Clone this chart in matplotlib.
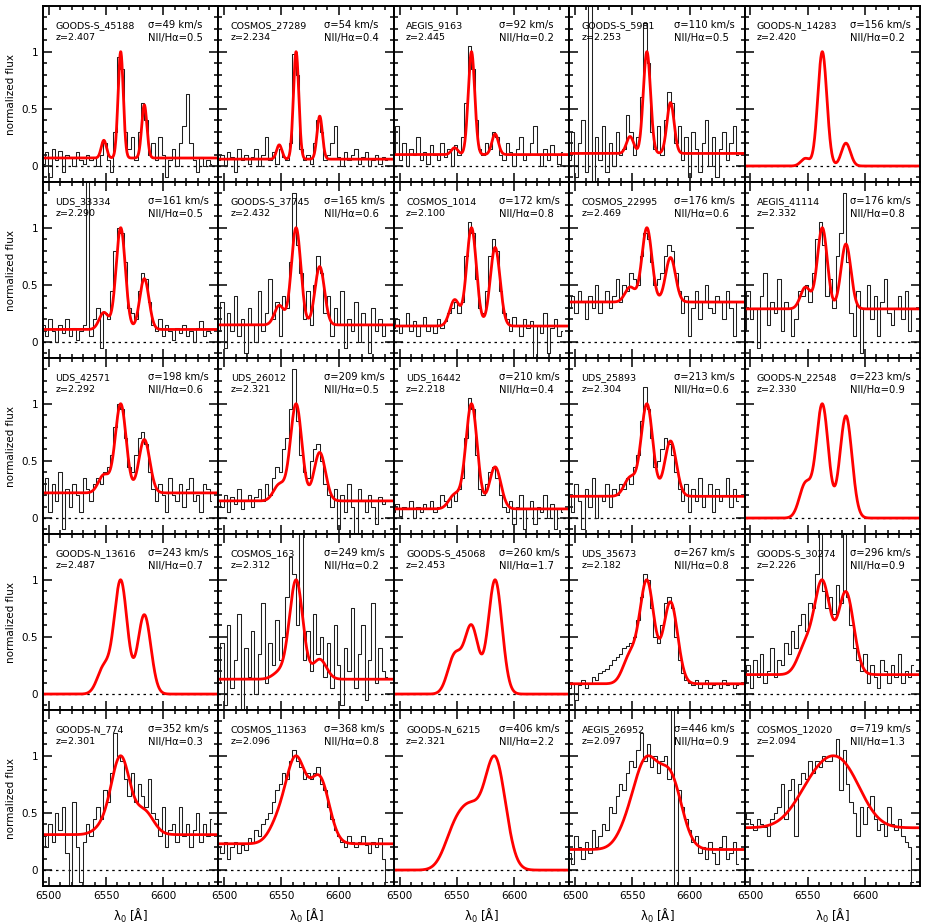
import numpy as np
import matplotlib
matplotlib.use("Agg")
import matplotlib.pyplot as plt
from matplotlib.ticker import MultipleLocator, FixedLocator, FixedFormatter

# panel labels / fit parameters
names = ["GOODS-S_45188", "COSMOS_27289", "AEGIS_9163", "GOODS-S_5981", "GOODS-N_14283",
         "UDS_33334", "GOODS-S_37745", "COSMOS_1014", "COSMOS_22995", "AEGIS_41114",
         "UDS_42571", "UDS_26012", "UDS_16442", "UDS_25893", "GOODS-N_22548",
         "GOODS-N_13616", "COSMOS_163", "GOODS-S_45068", "UDS_35673", "GOODS-S_30274",
         "GOODS-N_774", "COSMOS_11363", "GOODS-N_6215", "AEGIS_26952", "COSMOS_12020"]
redshifts = ["2.407", "2.234", "2.445", "2.253", "2.420",
             "2.290", "2.432", "2.100", "2.469", "2.332",
             "2.292", "2.321", "2.218", "2.304", "2.330",
             "2.487", "2.312", "2.453", "2.182", "2.226",
             "2.301", "2.096", "2.321", "2.097", "2.094"]
sigmas = [49, 54, 92, 110, 156,
          161, 165, 172, 176, 176,
          198, 209, 210, 213, 223,
          243, 249, 260, 267, 296,
          352, 368, 406, 446, 719]
ratios = [0.5, 0.4, 0.2, 0.5, 0.2,
          0.5, 0.6, 0.8, 0.6, 0.8,
          0.6, 0.5, 0.4, 0.6, 0.9,
          0.7, 0.2, 1.7, 0.8, 0.9,
          0.3, 0.8, 2.2, 0.9, 1.3]
continua = [0.07, 0.06, 0.10, 0.11, 0.0,
            0.11, 0.15, 0.14, 0.35, 0.29,
            0.22, 0.15, 0.08, 0.19, 0.0,
            0.0, 0.13, 0.0, 0.09, 0.17,
            0.31, 0.23, 0.0, 0.18, 0.37]

# observed spectra, 3 A bins starting at 6495 A (rough reading)
spec_gs45188 = [0.02, 0.12, -0.10, 0.15, 0.05, 0.13, -0.05, 0.10, 0.08, 0.00,
                0.12, 0.05, 0.02, 0.10, 0.05, 0.08, 0.00, 0.10, 0.20, 0.05,
                -0.05, 0.30, 0.95, 0.85, 0.30, 0.15, 0.25, 0.05, 0.30, 0.55,
                0.40, 0.10, 0.20, 0.05, 0.25, 0.10, -0.10, 0.05, 0.15, 0.00,
                0.20, 0.35, 0.63, 0.20, 0.05, -0.05, 0.08, 0.00, 0.05, 0.02]
spec_c27289 = [0.05, 0.10, 0.00, 0.12, 0.08, -0.05, 0.15, 0.05, 0.10, 0.02,
               0.08, 0.15, 0.00, 0.10, 0.25, 0.05, 0.12, 0.02, 0.15, 0.08,
               0.05, 0.20, 0.98, 0.80, 0.15, 0.05, 0.10, 0.02, 0.20, 0.40,
               0.30, 0.05, 0.10, 0.20, 0.35, 0.08, 0.00, 0.12, 0.05, 0.10,
               0.15, 0.02, 0.08, 0.12, 0.00, 0.05, 0.10, 0.02, 0.08, 0.05]
spec_a9163 = [0.10, 0.35, 0.05, 0.20, 0.00, 0.15, 0.10, 0.25, 0.05, 0.12,
              0.02, 0.18, 0.10, 0.05, 0.20, 0.08, 0.15, 0.00, 0.18, 0.10,
              0.25, 0.55, 1.05, 0.85, 0.40, 0.15, 0.10, 0.20, 0.15, 0.30,
              0.25, 0.10, 0.05, 0.20, 0.12, 0.00, 0.15, 0.25, 0.05, 0.10,
              0.20, 0.35, 0.10, 0.00, 0.15, 0.05, 0.18, 0.10, 0.02, 0.12]
spec_gs5981 = [0.05, 0.30, -0.10, 0.20, 0.40, -0.05, 1.40, -0.15, 0.25, 0.05,
               0.35, -0.05, 0.20, 0.00, 0.30, 0.10, 0.15, 0.45, 0.30, 0.10,
               0.25, 0.60, 1.25, 0.90, 0.30, 0.15, 0.35, 0.10, 0.40, 0.65,
               0.55, 0.20, 0.35, 0.05, 0.25, -0.10, 0.30, 0.15, -0.05, 0.20,
               0.40, 0.00, 0.25, -0.10, 0.15, 0.30, 0.05, 0.20, 0.35, 0.10]
spec_u33334 = [0.15, 0.05, 0.20, 0.10, 0.00, 0.15, 0.08, 0.20, 0.05, 0.12,
               0.02, 0.10, 0.15, 1.40, 0.05, 0.20, 0.30, -0.05, 0.25, 0.20,
               0.45, 0.80, 1.00, 0.95, 0.70, 0.30, 0.25, 0.20, 0.45, 0.60,
               0.55, 0.35, 0.15, 0.10, 0.20, 0.05, 0.15, 0.10, 0.02, 0.12,
               0.08, 0.15, 0.05, 0.10, 0.00, 0.12, 0.18, 0.05, 0.10, 0.08]
spec_gs37745 = [0.10, 0.35, -0.05, 0.25, 0.10, 0.40, 0.05, 0.20, -0.10, 0.30,
                0.15, 0.00, 0.45, 0.10, 0.25, 0.55, 0.20, 0.35, 0.05, 0.40,
                0.30, 0.70, 1.30, 0.85, 0.60, 0.20, 0.45, 0.15, 0.50, 0.75,
                0.60, 0.25, 0.40, 0.05, 0.30, 0.15, 0.45, -0.05, 0.20, 0.10,
                0.35, 0.00, 0.25, 0.15, -0.10, 0.30, 0.10, 0.20, 0.05, 0.15]
spec_c1014 = [0.12, 0.20, 0.08, 0.15, 0.25, 0.10, 0.18, 0.05, 0.15, 0.22,
              0.10, 0.15, 0.08, 0.20, 0.12, 0.18, 0.25, 0.30, 0.35, 0.25,
              0.35, 0.75, 1.05, 0.95, 0.55, 0.30, 0.25, 0.45, 0.75, 0.90,
              0.80, 0.45, 0.25, 0.20, 0.10, 0.22, 0.15, 0.05, 0.20, 0.12,
              0.18, -0.15, 0.15, 0.08, 0.25, -0.10, 0.12, 0.20, 0.05, 0.10]
spec_c22995 = [0.30, 0.40, 0.25, 0.45, 0.35, 0.20, 0.40, 0.30, 0.50, 0.25,
               0.35, 0.45, 0.30, 0.40, 0.55, 0.35, 0.50, 0.45, 0.60, 0.55,
               0.50, 0.75, 0.95, 0.90, 0.70, 0.50, 0.55, 0.60, 0.75, 0.85,
               0.80, 0.60, 0.45, 0.25, 0.40, 0.05, 0.30, 0.45, 0.20, 0.35,
               0.50, 0.30, 0.25, 0.40, 0.35, 0.20, 0.45, 0.30, 0.05, 0.35]
spec_a41114 = [0.10, 0.45, 0.20, 0.30, -0.05, 0.40, 0.60, 0.15, 0.35, 0.25,
               0.55, 0.10, 0.35, 0.30, 0.05, 0.20, 0.45, 0.40, 0.50, 0.35,
               0.60, 0.90, 1.05, 0.85, 0.40, 0.55, 0.30, 0.75, 0.95, 1.30,
               0.70, 0.25, 0.05, 0.45, -0.10, 0.30, 0.50, 0.20, 0.40, 0.05,
               0.35, 0.55, 0.25, 0.15, 0.30, 0.40, 0.20, 0.45, 0.10, 0.30]
spec_u42571 = [0.20, 0.35, 0.05, 0.30, 0.15, 0.40, -0.10, 0.25, 0.10, 0.30,
               0.20, 0.05, 0.35, 0.25, 0.15, 0.30, 0.35, 0.30, 0.40, 0.45,
               0.55, 0.80, 1.00, 0.95, 0.70, 0.45, 0.40, 0.55, 0.70, 0.75,
               0.65, 0.40, 0.25, 0.15, 0.30, 0.20, 0.05, 0.35, 0.20, 0.15,
               0.30, 0.10, 0.25, 0.35, 0.15, 0.20, 0.05, 0.30, 0.25, 0.15]
spec_u26012 = [0.15, 0.10, 0.20, 0.05, 0.18, 0.12, 0.25, 0.08, 0.15, 0.20,
               0.10, 0.18, 0.25, 0.15, 0.30, 0.20, 0.35, 0.45, 0.40, 0.60,
               0.70, 0.95, 1.30, 0.85, 0.55, 0.40, 0.35, 0.50, 0.60, 0.65,
               0.50, 0.30, 0.20, 0.10, 0.25, -0.10, 0.20, 0.05, 0.30, 0.10,
               -0.15, 0.25, 0.15, 0.05, 0.20, 0.10, -0.05, 0.18, 0.12, 0.15]
spec_u16442 = [0.05, 0.12, 0.02, 0.10, 0.08, 0.15, 0.00, 0.10, 0.05, 0.12,
               0.08, 0.15, 0.05, 0.10, 0.20, 0.15, 0.10, 0.20, 0.15, 0.25,
               0.35, 0.70, 1.05, 0.95, 0.55, 0.25, 0.20, 0.30, 0.40, 0.45,
               0.35, 0.20, 0.10, 0.05, 0.15, -0.05, 0.10, 0.20, -0.10, 0.08,
               0.15, -0.05, 0.10, 0.05, 0.20, 0.00, 0.12, -0.10, 0.08, 0.05]
spec_u25893 = [0.20, 0.05, 0.30, 0.15, -0.10, 0.25, 0.10, 0.35, 0.00, 0.20,
               0.15, 0.30, 0.10, 0.25, 0.20, 0.30, 0.25, 0.35, 0.30, 0.45,
               0.55, 0.85, 1.15, 0.95, 0.70, 0.45, 0.50, 0.60, 0.70, 0.65,
               0.55, 0.40, 0.25, 0.15, 0.30, 0.05, 0.25, 0.15, 0.35, 0.10,
               0.20, 0.30, 0.05, 0.25, 0.15, 0.20, 0.35, 0.10, 0.25, 0.15]
spec_c163 = [0.10, 0.45, -0.10, 0.60, 0.05, 0.30, 0.70, -0.15, 0.40, 0.15,
             0.55, 0.00, 0.35, 0.80, 0.10, 0.45, 0.25, 0.65, 0.30, 0.50,
             0.85, 1.20, 1.05, 0.60, 1.40, 0.30, 0.55, 0.20, 0.70, 0.35,
             0.50, 0.15, 0.45, 0.05, 0.60, 0.25, -0.10, 0.40, 0.20, 0.75,
             0.05, 0.35, 0.60, -0.05, 0.30, 0.80, 0.10, 0.40, 0.20, 0.15]
spec_u35673 = [0.05, 0.10, -0.05, 0.08, 0.12, 0.05, 0.10, 0.15, 0.12, 0.18,
               0.20, 0.22, 0.25, 0.30, 0.32, 0.35, 0.40, 0.42, 0.45, 0.50,
               0.65, 0.85, 1.05, 1.00, 0.75, 0.50, 0.45, 0.60, 0.80, 0.85,
               0.75, 0.50, 0.30, 0.18, 0.12, 0.10, 0.08, 0.12, 0.05, 0.10,
               0.12, 0.05, 0.08, 0.10, 0.05, 0.12, 0.08, 0.10, 0.05, 0.08]
spec_gs30274 = [0.10, 0.25, 0.05, 0.30, 0.15, 0.35, 0.10, 0.20, 0.40, 0.15,
                0.30, 0.25, 0.45, 0.35, 0.55, 0.40, 0.60, 0.70, 0.55, 0.80,
                0.75, 1.05, 1.40, 0.90, 0.75, 0.85, 0.70, 0.95, 0.80, 1.40,
                0.85, 0.60, 0.40, 0.30, 0.20, 0.35, 0.10, 0.25, 0.15, 0.05,
                0.30, 0.20, 0.10, 0.25, 0.15, 0.35, 0.10, 0.20, 0.15, 0.25]
spec_gn774 = [0.30, 0.20, 0.40, 0.25, 0.50, 0.35, 0.55, 0.15, -0.15, 0.60,
              0.20, -0.10, 0.25, 0.40, 0.30, 0.45, 0.55, 0.45, 0.70, 0.60,
              0.85, 1.20, 1.00, 0.95, 0.80, 0.65, 0.85, 0.60, 0.75, 0.65,
              0.55, 0.80, 0.50, 0.45, 0.30, 0.55, 0.20, 0.35, 0.40, 0.25,
              0.55, 0.30, 0.40, 0.20, 0.35, 0.50, 0.25, 0.40, 0.30, 0.45]
spec_c11363 = [0.20, 0.15, 0.25, 0.10, 0.20, 0.25, 0.15, 0.22, 0.18, 0.28,
               0.25, 0.35, 0.30, 0.40, 0.45, 0.50, 0.60, 0.70, 0.75, 0.85,
               0.80, 0.95, 1.05, 0.95, 0.90, 0.80, 0.85, 0.80, 0.85, 0.90,
               0.75, 0.70, 0.55, 0.45, 0.35, 0.30, 0.25, 0.20, 0.30, 0.25,
               0.20, 0.25, 0.30, 0.22, 0.15, 0.25, 0.20, 0.28, 0.10, -0.10]
spec_a26952 = [0.15, 0.05, 0.30, 0.20, 0.10, 0.25, 0.15, 0.35, 0.20, 0.30,
               0.40, 0.35, 0.55, 0.50, 0.65, 0.75, 0.70, 0.85, 0.95, 0.90,
               1.05, 1.20, 0.95, 1.10, 0.90, 1.00, 0.85, 0.95, 1.00, 0.80,
               1.40, -0.15, 0.70, 0.55, 0.45, 0.35, 0.25, 0.30, 0.15, 0.20,
               0.10, 0.25, 0.15, 0.05, 0.20, 0.30, 0.10, 0.15, 0.25, 0.05]
spec_c12020 = [0.50, 0.45, 0.40, 0.35, 0.45, 0.40, 0.38, 0.30, 0.45, 0.50,
               0.55, 0.75, 0.45, 0.70, 0.80, 0.30, 0.75, 0.85, 0.80, 0.95,
               0.85, 0.95, 0.90, 1.00, 0.95, 0.95, 1.00, 1.15, 0.70, 1.05,
               0.75, 0.60, 0.50, 0.30, 0.55, 0.40, 0.55, 0.65, 0.45, 0.35,
               0.40, 0.30, 0.55, 0.40, 0.35, 0.45, 0.30, 0.25, 0.20, -0.10]

spectra = [spec_gs45188, spec_c27289, spec_a9163, spec_gs5981, None,
           spec_u33334, spec_gs37745, spec_c1014, spec_c22995, spec_a41114,
           spec_u42571, spec_u26012, spec_u16442, spec_u25893, None,
           None, spec_c163, None, spec_u35673, spec_gs30274,
           spec_gn774, spec_c11363, None, spec_a26952, spec_c12020]

wave0, dwave = 6495.0, 3.0
line_waves = [6562.8, 6583.4, 6548.1]  # Ha, NII 6583, NII 6548
c_kms = 299792.458
inst_sig = 2.0


def model(wl, sig_kms, ratio, cont):
    s = np.sqrt((sig_kms / c_kms * 6563.0) ** 2 + inst_sig ** 2)
    amps = [1.0, ratio, ratio / 3.0]
    prof = sum(a * np.exp(-0.5 * ((wl - l0) / s) ** 2) for a, l0 in zip(amps, line_waves))
    return cont + (1.0 - cont) * prof / prof.max()


fig, axes = plt.subplots(5, 5, figsize=(9.26, 9.23), dpi=100, sharex=True, sharey=True)
fig.subplots_adjust(left=0.0464, right=0.9935, top=0.9935, bottom=0.040, wspace=0, hspace=0)

wl = np.linspace(6490, 6650, 800)

for k, ax in enumerate(axes.flat):
    row, col = divmod(k, 5)
    ax.axhline(0, color="black", ls=(0, (2, 3)), lw=0.9)
    if spectra[k] is not None:
        f = np.array(spectra[k])
        w = wave0 + dwave * np.arange(len(f))
        ax.plot(w, f, drawstyle="steps-mid", color="0.12", lw=0.75)
    ax.plot(wl, model(wl, sigmas[k], ratios[k], continua[k]), color="red", lw=2)

    ax.text(0.07, 0.89, names[k], transform=ax.transAxes, fontsize=6.8, va="center")
    ax.text(0.07, 0.82, "z=" + redshifts[k], transform=ax.transAxes, fontsize=6.8, va="center")
    ax.text(0.60, 0.89, "σ=%d km/s" % sigmas[k], transform=ax.transAxes, fontsize=7.2, va="center")
    ax.text(0.60, 0.82, "NII/Hα=%.1f" % ratios[k], transform=ax.transAxes, fontsize=7.2, va="center")

    ax.set_xlim(6495, 6648)
    ax.set_ylim(-0.14, 1.4)
    ax.xaxis.set_major_locator(MultipleLocator(50))
    ax.xaxis.set_minor_locator(MultipleLocator(10))
    ax.yaxis.set_major_locator(FixedLocator([0, 0.5, 1]))
    ax.yaxis.set_major_formatter(FixedFormatter(["0", "0.5", "1"]))
    ax.yaxis.set_minor_locator(MultipleLocator(0.1))
    ax.tick_params(which="both", direction="in", top=True, right=True, width=1.1, labelsize=7.5)
    ax.tick_params(which="major", length=6.5)
    ax.tick_params(which="minor", length=3.2)
    for sp in ax.spines.values():
        sp.set_linewidth(1.4)
    if col == 0:
        ax.set_ylabel("normalized flux", fontsize=7.5)
    if row == 4:
        ax.set_xlabel("λ$_0$ [Å]", fontsize=8.5)

fig.savefig("out.png", dpi=100)
